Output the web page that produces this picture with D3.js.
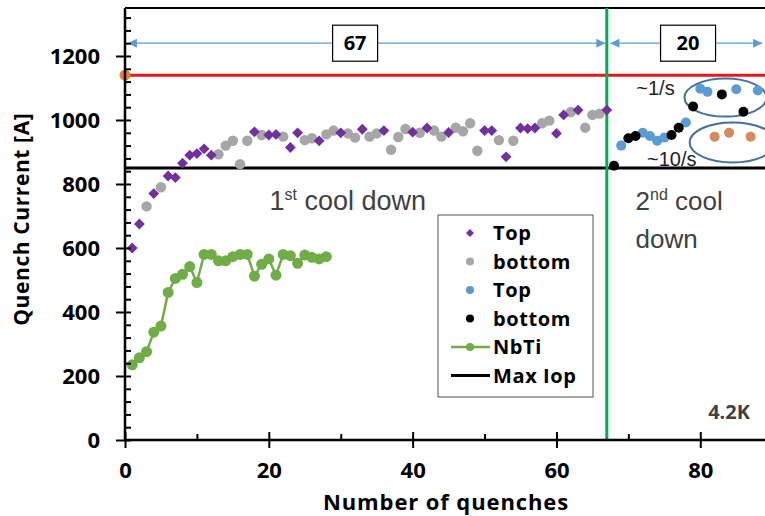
<!DOCTYPE html>
<html>
<head>
<meta charset="utf-8">
<script src="https://cdn.jsdelivr.net/npm/d3@7/dist/d3.min.js"></script>
<style>
  html, body { margin: 0; padding: 0; background: #fff; }
  svg { display: block; }
</style>
</head>
<body>
<svg id="chart" width="765" height="516"></svg>
<script>
// ---- data -------------------------------------------------------------
// first cool down: quench number, current [A]
const cd1TopN = [1, 2, 4, 6, 7, 8, 9, 10, 11, 12, 18, 20, 21, 23, 24, 27, 30, 33, 36, 40, 42, 45, 50, 51, 53, 55, 56, 57, 60, 61, 63, 67];
const cd1TopI = [600, 675, 770, 825, 820, 865, 890, 895, 910, 890, 963, 953, 955, 914, 960, 935, 960, 971, 967, 962, 975, 961, 967, 967, 885, 975, 973, 975, 958, 1016, 1031, 1031];
const cd1BotN = [3, 5, 13, 14, 15, 16, 17, 19, 22, 25, 26, 28, 29, 31, 32, 34, 35, 37, 38, 39, 41, 43, 44, 46, 47, 48, 49, 52, 54, 58, 59, 62, 64, 65, 66];
const cd1BotI = [730, 790, 893, 920, 935, 862, 935, 953, 948, 937, 943, 955, 967, 958, 945, 948, 958, 907, 947, 972, 960, 967, 948, 976, 965, 990, 904, 937, 935, 990, 998, 1025, 976, 1016, 1020];
// second cool down
const cd2TopN = [69, 72, 73, 74, 75, 78, 80, 81, 85, 88];
const cd2TopI = [920, 960, 950, 935, 945, 992, 1098, 1088, 1096, 1092];
const cd2BotN = [68, 70, 71, 76, 77, 79, 83, 86];
const cd2BotI = [857, 943, 950, 953, 976, 1042, 1080, 1026];
const cd2FastN = [82, 84, 87];
const cd2FastI = [948, 960, 948];
// NbTi reference conductor
const nbtiN = [1, 2, 3, 4, 5, 6, 7, 8, 9, 10, 11, 12, 13, 14, 15, 16, 17, 18, 19, 20, 21, 22, 23, 24, 25, 26, 27, 28];
const nbtiI = [235, 257, 276, 337, 356, 461, 505, 518, 542, 492, 580, 580, 560, 560, 573, 580, 580, 512, 549, 566, 515, 580, 576, 552, 578, 571, 566, 573];
// reference levels
const maxIop = 850;
const shortSample = 1140;
const cooldownSplit = 67;
const quenchCounts = ["67", "20"];
// axes
const xTicks = [0, 20, 40, 60, 80];
const xMinor = [10, 30, 50, 70];
const yTicks = [0, 200, 400, 600, 800, 1000, 1200];
const yMinor = d3.range(40, 1350, 40).filter(v => v % 200 !== 0);

// ---- layout -----------------------------------------------------------
const svg = d3.select("#chart");
const x = d3.scaleLinear().domain([0, 89]).range([125, 765]);
const y = d3.scaleLinear().domain([0, 1350]).range([440, 8]);

const C = {
  purple: "#7030a0", gray: "#a6a6a6", blue: "#5b9bd5", black: "#000",
  nbti: "#70ad47", split: "#00b050", red: "#e31a1c", orange: "#ed7d31",
  fast: "#d48a5c", arrow: "#5b9bd5", ellipse: "#41719c", text: "#404040"
};
const tickFont = "'Open Sans', sans-serif";

// top frame line
svg.append("line").attr("x1", x(0)).attr("x2", 765).attr("y1", y(1350)).attr("y2", y(1350))
  .attr("stroke", "#000").attr("stroke-width", 2);

// ---- reference lines ----
svg.append("line").attr("x1", x(0)).attr("x2", 765).attr("y1", y(shortSample)).attr("y2", y(shortSample))
  .attr("stroke", C.red).attr("stroke-width", 3);
svg.append("line").attr("x1", x(0)).attr("x2", 765).attr("y1", y(maxIop)).attr("y2", y(maxIop))
  .attr("stroke", "#000").attr("stroke-width", 3);
svg.append("line").attr("x1", x(cooldownSplit)).attr("x2", x(cooldownSplit)).attr("y1", y(1350)).attr("y2", y(0))
  .attr("stroke", C.split).attr("stroke-width", 3);

// ---- count arrows ----
const defs = svg.append("defs");
["L", "R"].forEach(d => {
  defs.append("marker").attr("id", "arr" + d).attr("viewBox", "0 0 10 10")
    .attr("refX", d === "R" ? 10 : 0).attr("refY", 5)
    .attr("markerWidth", 11).attr("markerHeight", 9).attr("markerUnits", "userSpaceOnUse")
    .attr("orient", "auto")
    .append("path").attr("d", d === "R" ? "M0,0 L10,5 L0,10 Z" : "M10,0 L0,5 L10,10 Z")
    .attr("fill", C.arrow);
});
const spans = [[0.4, cooldownSplit - 0.2, 32, quenchCounts[0]], [cooldownSplit + 0.5, 88.6, 78.3, quenchCounts[1]]];
spans.forEach(([a, b, c, lbl]) => {
  svg.append("line").attr("x1", x(a)).attr("x2", x(b)).attr("y1", y(1240)).attr("y2", y(1240))
    .attr("stroke", C.arrow).attr("stroke-width", 1.2)
    .attr("marker-start", "url(#arrL)").attr("marker-end", "url(#arrR)");
  const bw = lbl === "67" ? 45 : 55;
  svg.append("rect").attr("x", x(c) - bw / 2).attr("y", y(1240) - 18).attr("width", bw).attr("height", 36)
    .attr("fill", "#fff").attr("stroke", "#000").attr("stroke-width", 1.2);
  svg.append("text").attr("x", x(c)).attr("y", y(1240)).attr("dy", "0.36em")
    .attr("text-anchor", "middle").attr("font-family", tickFont).attr("font-weight", "bold")
    .attr("font-size", 20).attr("fill", "#000").text(lbl);
});

// ---- ellipses around ramp-rate groups ----
svg.append("ellipse").attr("cx", x(83.5)).attr("cy", y(1070)).attr("rx", 41).attr("ry", 19)
  .attr("fill", "none").attr("stroke", C.ellipse).attr("stroke-width", 2);
svg.append("ellipse").attr("cx", x(84.5)).attr("cy", y(930)).attr("rx", 43).attr("ry", 20)
  .attr("fill", "none").attr("stroke", C.ellipse).attr("stroke-width", 2);

// ---- NbTi ----
const nbti = nbtiN.map((n, i) => [n, nbtiI[i]]);
svg.append("path").datum(nbti)
  .attr("d", d3.line().x(d => x(d[0])).y(d => y(d[1])))
  .attr("fill", "none").attr("stroke", C.nbti).attr("stroke-width", 2.5);
svg.append("g").selectAll("circle").data(nbti).join("circle")
  .attr("cx", d => x(d[0])).attr("cy", d => y(d[1])).attr("r", 5.5).attr("fill", C.nbti);

// ---- scatter series ----
function dots(ns, vs, color, r) {
  svg.append("g").selectAll("circle").data(ns.map((n, i) => [n, vs[i]])).join("circle")
    .attr("cx", d => x(d[0])).attr("cy", d => y(d[1])).attr("r", r).attr("fill", color);
}
dots(cd1BotN, cd1BotI, C.gray, 5.2);
svg.append("g").selectAll("path").data(cd1TopN.map((n, i) => [n, cd1TopI[i]])).join("path")
  .attr("transform", d => `translate(${x(d[0])},${y(d[1])})`)
  .attr("d", d3.symbol(d3.symbolDiamond2, 75)).attr("fill", C.purple);
dots(cd2TopN, cd2TopI, C.blue, 5);
dots(cd2BotN, cd2BotI, C.black, 5);
dots(cd2FastN, cd2FastI, C.fast, 5);

// short-sample marker on the axis
svg.append("circle").attr("cx", x(0)).attr("cy", y(shortSample)).attr("r", 5.5).attr("fill", C.orange);

// ---- axes ----
const yAxis = svg.append("g").attr("transform", `translate(${x(0)},0)`)
  .call(d3.axisLeft(y).tickValues(yTicks).tickFormat(d3.format("d")).tickSize(9).tickPadding(6));
yAxis.select(".domain").attr("stroke-width", 2.5).attr("d", `M0,${y(0)}V${y(1350)}`);
yAxis.selectAll(".tick line").attr("x2", 6).attr("x1", -9).attr("stroke-width", 2);
yAxis.selectAll(".tick text").attr("font-family", tickFont).attr("font-weight", "bold")
  .attr("font-size", 22).attr("fill", "#000").attr("x", -25);
svg.append("g").attr("transform", `translate(${x(0)},0)`)
  .call(d3.axisRight(y).tickValues(yMinor).tickSize(6).tickFormat(""))
  .call(g => g.select(".domain").remove())
  .selectAll("line").attr("stroke-width", 2);

const xAxis = svg.append("g").attr("transform", `translate(0,${y(0)})`)
  .call(d3.axisBottom(x).tickValues(xTicks).tickSize(8).tickPadding(14));
xAxis.select(".domain").attr("stroke-width", 2.5).attr("d", `M${x(0)},0H765`);
xAxis.selectAll(".tick line").attr("y1", -8).attr("y2", 8).attr("stroke-width", 2);
xAxis.selectAll(".tick text").attr("font-family", tickFont).attr("font-weight", "bold")
  .attr("font-size", 22).attr("fill", "#000");
svg.append("g").attr("transform", `translate(0,${y(0)})`)
  .call(d3.axisTop(x).tickValues(xMinor).tickSize(6).tickFormat(""))
  .call(g => g.select(".domain").remove())
  .selectAll("line").attr("stroke-width", 2);

// axis titles
svg.append("text").attr("transform", `translate(29,${y(690)}) rotate(-90)`)
  .attr("text-anchor", "middle").attr("font-family", tickFont).attr("font-weight", "bold")
  .attr("font-size", 21).attr("letter-spacing", 0.6).attr("fill", "#000").text("Quench Current [A]");
svg.append("text").attr("x", 446).attr("y", 510)
  .attr("text-anchor", "middle").attr("font-family", tickFont).attr("font-weight", "bold")
  .attr("font-size", 22).attr("letter-spacing", 0.9).attr("fill", "#000").text("Number of quenches");

// ---- annotations ----
const ann = "'Liberation Sans', Arial, sans-serif";
const t1 = svg.append("text").attr("x", x(20.1)).attr("y", 210).attr("font-family", ann)
  .attr("font-size", 27).attr("fill", C.text);
t1.append("tspan").text("1");
t1.append("tspan").attr("font-size", 16).attr("dy", -10).text("st");
t1.append("tspan").attr("dy", 10).text(" cool down");
const t2 = svg.append("text").attr("x", x(71)).attr("y", 210).attr("font-family", ann)
  .attr("font-size", 26).attr("fill", C.text);
t2.append("tspan").text("2");
t2.append("tspan").attr("font-size", 16).attr("dy", -10).text("nd");
t2.append("tspan").attr("dy", 10).text(" cool");
svg.append("text").attr("x", x(71)).attr("y", 248).attr("font-family", ann)
  .attr("font-size", 26).attr("fill", C.text).text("down");
svg.append("text").attr("x", x(71.1)).attr("y", 95).attr("font-family", ann)
  .attr("font-size", 20).attr("fill", "#222").text("~1/s");
svg.append("text").attr("x", x(72.6)).attr("y", 166).attr("font-family", ann)
  .attr("font-size", 20).attr("fill", "#222").text("~10/s");
svg.append("text").attr("x", x(81.1)).attr("y", 419).attr("font-family", tickFont)
  .attr("font-weight", "bold").attr("font-size", 20).attr("fill", C.text).text("4.2K");

// ---- legend ----
const lg = svg.append("g").attr("transform", "translate(438,215)");
lg.append("rect").attr("width", 155).attr("height", 182).attr("fill", "#fff")
  .attr("stroke", "#555").attr("stroke-width", 1);
const items = [
  { label: "Top", type: "diamond", color: C.purple },
  { label: "bottom", type: "dot", color: C.gray },
  { label: "Top", type: "dot", color: C.blue },
  { label: "bottom", type: "dot", color: C.black },
  { label: "NbTi", type: "lineDot", color: C.nbti },
  { label: "Max Iop", type: "line", color: "#000" }
];
items.forEach((it, i) => {
  const cy = 18 + i * 28.5;
  const g = lg.append("g");
  if (it.type === "diamond") {
    g.append("path").attr("transform", `translate(32,${cy})`)
      .attr("d", d3.symbol(d3.symbolDiamond2, 40)).attr("fill", it.color);
  } else if (it.type === "dot") {
    g.append("circle").attr("cx", 32).attr("cy", cy).attr("r", 4).attr("fill", it.color);
  } else {
    g.append("line").attr("x1", 13).attr("x2", 52).attr("y1", cy).attr("y2", cy)
      .attr("stroke", it.color).attr("stroke-width", it.type === "line" ? 3 : 2.5);
    if (it.type === "lineDot") g.append("circle").attr("cx", 32).attr("cy", cy).attr("r", 4).attr("fill", it.color);
  }
  g.append("text").attr("x", 55).attr("y", cy).attr("dy", "0.36em")
    .attr("font-family", tickFont).attr("font-weight", "bold").attr("font-size", 20)
    .attr("letter-spacing", 0.6).attr("fill", "#000").text(it.label);
});
</script>
</body>
</html>
